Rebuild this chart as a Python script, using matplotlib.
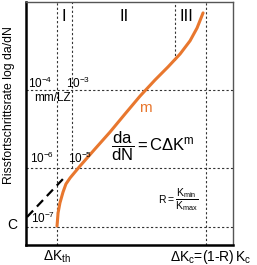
import matplotlib.pyplot as plt

plt.rcParams['font.family'] = ['Liberation Sans', 'DejaVu Sans']
plt.rcParams['mathtext.fontset'] = 'custom'
plt.rcParams['mathtext.rm'] = 'Liberation Sans'
plt.rcParams['mathtext.it'] = 'Liberation Sans'

# crack growth curve (arbitrary log-log units, 0..100)
curve_x = [15.0, 15.5, 16.4, 17.9, 19.3, 21.3, 26.1, 33.3, 40.6, 47.8, 55.1,
           62.3, 68.6, 74.4, 79.2, 82.6, 85.5]
curve_y = [7.8, 13.2, 17.3, 21.8, 25.1, 27.6, 32.5, 39.5, 46.5, 53.9, 61.3,
           67.9, 73.3, 78.6, 84.0, 89.3, 95.5]
# extrapolated paris line down to C
paris_x = [0.5, 18.8]
paris_y = [11.5, 28.0]

region_x = [18.4, 47.3, 77.3]
region_labels = ['I', 'II', 'III']

orange = '#E8772E'

fig = plt.figure(figsize=(2.57, 2.65), dpi=100)
ax = fig.add_axes([0.101, 0.0755, 0.806, 0.917])
ax.set_xlim(0, 100)
ax.set_ylim(0, 100)
ax.set_xticks([])
ax.set_yticks([])
for s in ['left', 'bottom']:
    ax.spines[s].set_linewidth(1.8)
for s in ['top', 'right']:
    ax.spines[s].set_linewidth(1.0)
    ax.spines[s].set_color('#555555')

dash = dict(color='#333333', lw=0.8, ls=(0, (2, 2)))
ax.axvline(15.0, **dash)
ax.axvline(87.0, **dash)
ax.plot([22.2, 22.2], [31.7, 100], **dash)
ax.plot([72.0, 72.0], [76.0, 100], **dash)
for y in [63.8, 31.7, 7.4]:
    ax.axhline(y, **dash)

ax.plot(paris_x, paris_y, color='black', lw=1.6, ls=(0, (4, 2.5)))
ax.plot(curve_x, curve_y, color=orange, lw=2.2, solid_capstyle='round')

for x, t in zip(region_x, region_labels):
    ax.text(x, 94.0, t, fontsize=12, ha='center', va='center')

ax.text(-8.2, 57.6, 'Rissfortschrittsrate log da/dN', rotation=90, fontsize=8.8,
        ha='center', va='center', clip_on=False)

lbl = dict(fontsize=8.5, ha='center', va='center')
ax.text(6.8, 66.5, r'10$^{-4}$', **lbl)
ax.text(25.0, 66.5, r'10$^{-3}$', **lbl)
ax.text(13.0, 60.5, 'mm/LZ', **lbl)
ax.text(8.0, 35.5, r'10$^{-6}$', **lbl)
ax.text(26.0, 35.5, r'10$^{-5}$', **lbl)
ax.text(8.5, 11.0, r'10$^{-7}$', **lbl)
ax.text(-6.8, 8.2, 'C', fontsize=10, ha='center', va='center', clip_on=False)

ax.text(57.5, 56.4, 'm', color=orange, fontsize=11, ha='center', va='center')
ax.text(61.5, 40.5, r'$\dfrac{\mathrm{da}}{\mathrm{dN}}=\mathrm{C\Delta K^m}$',
        fontsize=12, ha='center', va='center')
ax.text(73.5, 18.5, r'$\mathrm{R}=\dfrac{\mathrm{K_{min}}}{\mathrm{K_{max}}}$',
        fontsize=7.5, ha='center', va='center')

ax.text(15.0, -5.0, r'$\Delta\mathrm{K_{th}}$', fontsize=10, ha='center',
        va='center', clip_on=False)
ax.text(89.0, -5.0, r'$\Delta\mathrm{K_c}$=(1-R)$\,\mathrm{K_c}$', fontsize=10,
        ha='center', va='center', clip_on=False)

fig.savefig('out.png', dpi=100)
